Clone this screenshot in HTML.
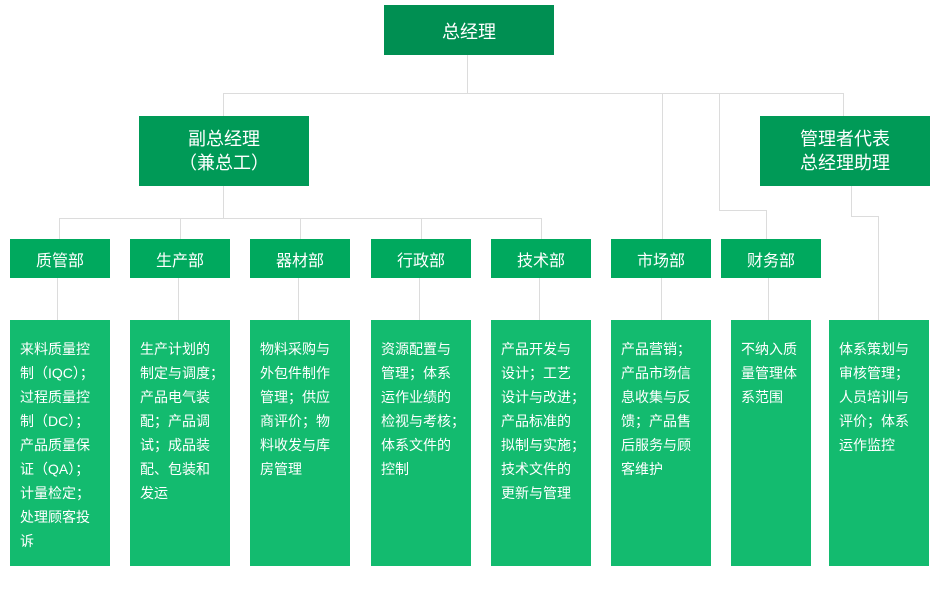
<!DOCTYPE html>
<html><head><meta charset="utf-8"><style>
body{margin:0;width:940px;height:590px;background:#fff;position:relative;overflow:hidden;font-family:"Liberation Sans","Noto Sans CJK SC",sans-serif;color:#fff}
div{position:absolute;box-sizing:border-box}
.l{background:#dcdcdc}
.h{background:#009a57;display:flex;align-items:center;justify-content:center;text-align:center;font-size:18px;line-height:24px}
.d{background:#00a95e;display:flex;align-items:center;justify-content:center;font-size:16px;top:239px;height:39px;width:100px}
.b{background:#13bb6f;top:320px;height:246px;width:100px;font-size:14px;line-height:24px;padding:17px 0 0 10px}
</style></head><body>
<div class="l" style="left:467px;top:54px;width:1px;height:40px"></div>
<div class="l" style="left:223px;top:93px;width:621px;height:1px"></div>
<div class="l" style="left:223px;top:93px;width:1px;height:23px"></div>
<div class="l" style="left:843px;top:93px;width:1px;height:23px"></div>
<div class="l" style="left:662px;top:93px;width:1px;height:146px"></div>
<div class="l" style="left:719px;top:93px;width:1px;height:117px"></div>
<div class="l" style="left:719px;top:210px;width:47px;height:1px"></div>
<div class="l" style="left:766px;top:210px;width:1px;height:29px"></div>
<div class="l" style="left:223px;top:185px;width:1px;height:33px"></div>
<div class="l" style="left:59px;top:218px;width:483px;height:1px"></div>
<div class="l" style="left:59px;top:218px;width:1px;height:21px"></div>
<div class="l" style="left:180px;top:218px;width:1px;height:21px"></div>
<div class="l" style="left:300px;top:218px;width:1px;height:21px"></div>
<div class="l" style="left:421px;top:218px;width:1px;height:21px"></div>
<div class="l" style="left:541px;top:218px;width:1px;height:21px"></div>
<div class="l" style="left:57px;top:278px;width:1px;height:42px"></div>
<div class="l" style="left:178px;top:278px;width:1px;height:42px"></div>
<div class="l" style="left:298px;top:278px;width:1px;height:42px"></div>
<div class="l" style="left:419px;top:278px;width:1px;height:42px"></div>
<div class="l" style="left:539px;top:278px;width:1px;height:42px"></div>
<div class="l" style="left:661px;top:278px;width:1px;height:42px"></div>
<div class="l" style="left:768px;top:278px;width:1px;height:42px"></div>
<div class="l" style="left:851px;top:185px;width:1px;height:31px"></div>
<div class="l" style="left:851px;top:216px;width:28px;height:1px"></div>
<div class="l" style="left:878px;top:216px;width:1px;height:104px"></div>
<div class="h" style="left:384px;top:5px;width:170px;height:50px;background:#008f52;padding-top:4px">总经理</div>
<div class="h" style="left:139px;top:116px;width:170px;height:70px">副总经理<br>（兼总工）</div>
<div class="h" style="left:760px;top:116px;width:170px;height:70px">管理者代表<br>总经理助理</div>
<div class="d" style="left:10px">质管部</div>
<div class="d" style="left:130px">生产部</div>
<div class="d" style="left:250px">器材部</div>
<div class="d" style="left:371px">行政部</div>
<div class="d" style="left:491px">技术部</div>
<div class="d" style="left:611px">市场部</div>
<div class="d" style="left:721px">财务部</div>
<div class="b" style="left:10px">来料质量控<br>制（IQC）；<br>过程质量控<br>制（DC）；<br>产品质量保<br>证（QA）；<br>计量检定；<br>处理顾客投<br>诉</div>
<div class="b" style="left:130px">生产计划的<br>制定与调度；<br>产品电气装<br>配；产品调<br>试；成品装<br>配、包装和<br>发运</div>
<div class="b" style="left:250px">物料采购与<br>外包件制作<br>管理；供应<br>商评价；物<br>料收发与库<br>房管理</div>
<div class="b" style="left:371px">资源配置与<br>管理；体系<br>运作业绩的<br>检视与考核；<br>体系文件的<br>控制</div>
<div class="b" style="left:491px">产品开发与<br>设计；工艺<br>设计与改进；<br>产品标准的<br>拟制与实施；<br>技术文件的<br>更新与管理</div>
<div class="b" style="left:611px">产品营销；<br>产品市场信<br>息收集与反<br>馈；产品售<br>后服务与顾<br>客维护</div>
<div class="b" style="left:731px;width:80px">不纳入质<br>量管理体<br>系范围</div>
<div class="b" style="left:829px">体系策划与<br>审核管理；<br>人员培训与<br>评价；体系<br>运作监控</div>
</body></html>
